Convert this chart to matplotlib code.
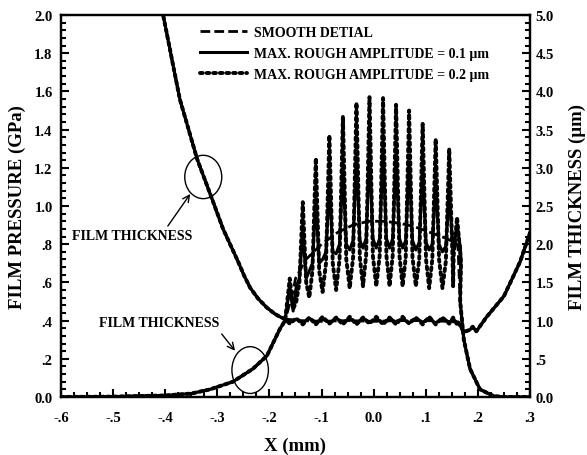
import numpy as np
import matplotlib
matplotlib.use('Agg')
import matplotlib.pyplot as plt
from matplotlib.patches import Ellipse
from matplotlib.ticker import MultipleLocator

plt.rcParams['font.family'] = ['Liberation Serif', 'DejaVu Serif']
plt.rcParams['font.weight'] = 'bold'

# ---- pressure (GPa) ----
# inlet build-up, common to all three runs
x_inlet = [-0.60, -0.50, -0.40, -0.35, -0.314, -0.27, -0.232, -0.205, -0.18, -0.17]
p_inlet = [0.0, 0.002, 0.008, 0.018, 0.04, 0.08, 0.147, 0.215, 0.356, 0.40]

# smooth contact dome
x_dome = [-0.165, -0.155, -0.15, -0.13, -0.10, -0.07, -0.04, -0.01, 0.02, 0.05,
          0.08, 0.11, 0.14, 0.16, 0.162]
p_dome = [0.45, 0.55, 0.62, 0.72, 0.80, 0.86, 0.90, 0.92, 0.92, 0.91,
          0.89, 0.86, 0.83, 0.80, 0.78]

# outlet drop, common to all three runs
x_outlet = [0.166, 0.173, 0.185, 0.204, 0.23, 0.25, 0.30]
p_outlet = [0.50, 0.30, 0.147, 0.04, 0.005, 0.0, 0.0]

# asperity spikes of the rough runs
x_peak = [-0.161, -0.136, -0.111, -0.085, -0.059, -0.033, -0.008, 0.018, 0.043,
          0.068, 0.094, 0.119, 0.145, 0.160]
p_peak_01 = [0.57, 0.87, 1.03, 1.11, 1.20, 1.25, 1.28, 1.28, 1.25, 1.23, 1.18,
             1.12, 1.08, 0.90]
p_foot_01 = [0.45, 0.62, 0.70, 0.76, 0.80, 0.82, 0.83, 0.83, 0.83, 0.82, 0.81,
             0.80, 0.79, 0.78]
p_valley_01 = [0.42, 0.58, 0.66, 0.72, 0.75, 0.77, 0.78, 0.78, 0.78, 0.78, 0.77,
               0.77, 0.76, 0.76, 0.72]
p_peak_02 = [0.62, 1.02, 1.25, 1.37, 1.47, 1.54, 1.57, 1.565, 1.53, 1.50, 1.43,
             1.35, 1.30, 0.94]
p_foot_02 = [0.46, 0.60, 0.66, 0.70, 0.72, 0.73, 0.74, 0.74, 0.74, 0.73, 0.72,
             0.72, 0.71, 0.74]
p_valley_02 = [0.42, 0.50, 0.52, 0.55, 0.56, 0.57, 0.58, 0.58, 0.58, 0.58, 0.58,
               0.57, 0.57, 0.58, 0.70]

# ---- film thickness (um) ----
x_film = [-0.41, -0.404, -0.372, -0.339, -0.31, -0.289, -0.26, -0.248, -0.237,
          -0.222, -0.205, -0.19, -0.18, -0.17, -0.14, -0.10, -0.05, 0.0, 0.05,
          0.10, 0.14, 0.162, 0.173, 0.185, 0.19, 0.197, 0.217, 0.25, 0.281, 0.30]
h_film = [5.15, 5.0, 3.9, 3.12, 2.59, 2.2, 1.77, 1.58, 1.43,
          1.29, 1.17, 1.09, 1.05, 1.02, 1.0, 0.99, 1.0, 0.99, 1.0,
          1.0, 0.99, 0.98, 0.85, 0.88, 0.92, 0.86, 1.05, 1.32, 1.77, 2.15]
# rough film: dips under each asperity, crests between them
h_dip_01 = [0.98, 0.97, 0.98, 0.97, 0.98, 0.97, 0.98, 0.97, 0.98, 0.97, 0.98,
            0.97, 0.98, 0.97]
h_crest_01 = [1.02, 1.03, 1.02, 1.03, 1.02, 1.03, 1.02, 1.03, 1.02, 1.03, 1.02,
              1.03, 1.02]
h_dip_02 = [0.96, 0.95, 0.95, 0.96, 0.95, 0.95, 0.96, 0.95, 0.95, 0.96, 0.95,
            0.95, 0.96, 0.95]
h_crest_02 = [1.03, 1.04, 1.05, 1.04, 1.05, 1.04, 1.05, 1.04, 1.05, 1.04, 1.05,
              1.04, 1.04]

x_ticks = [-0.6, -0.5, -0.4, -0.3, -0.2, -0.1, 0.0, 0.1, 0.2, 0.3]
x_labels = ['-.6', '-.5', '-.4', '-.3', '-.2', '-.1', '0.0', '.1', '.2', '.3']
p_ticks = [0.0, 0.2, 0.4, 0.6, 0.8, 1.0, 1.2, 1.4, 1.6, 1.8, 2.0]
p_labels = ['0.0', '.2', '.4', '.6', '.8', '1.0', '1.2', '1.4', '1.6', '1.8', '2.0']
h_ticks = [0.0, 0.5, 1.0, 1.5, 2.0, 2.5, 3.0, 3.5, 4.0, 4.5, 5.0]
h_labels = ['0.0', '.5', '1.0', '1.5', '2.0', '2.5', '3.0', '3.5', '4.0', '4.5', '5.0']

labels = ['SMOOTH DETIAL',
          'MAX. ROUGH AMPLITUDE = 0.1 \u00b5m',
          'MAX. ROUGH AMPLITUDE = 0.2 \u00b5m']

SPIKE_HALF = 0.0065


def rough_pressure(peaks, feet, valleys):
    xs, ps = list(x_inlet), list(p_inlet)
    mids = [(a + b) / 2 for a, b in zip(x_peak[:-1], x_peak[1:])]
    for i, xp in enumerate(x_peak):
        xs += [xp - SPIKE_HALF, xp, xp + SPIKE_HALF]
        ps += [feet[i], peaks[i], feet[i]]
        if i < len(mids):
            xs.append(mids[i])
            ps.append(valleys[i + 1])
    xs.append(x_peak[-1] + SPIKE_HALF + 0.001)
    ps.append(valleys[-1])
    return xs + x_outlet, ps + p_outlet


def rough_film(dips, crests):
    mids = [(a + b) / 2 for a, b in zip(x_peak[:-1], x_peak[1:])]
    xs = [x for x in x_film if x < -0.165]
    hs = [h for x, h in zip(x_film, h_film) if x < -0.165]
    for i, xp in enumerate(x_peak):
        xs.append(xp)
        hs.append(dips[i])
        if i < len(mids):
            xs.append(mids[i])
            hs.append(crests[i])
    tail = [(x, h) for x, h in zip(x_film, h_film) if x > 0.16]
    return xs + [t[0] for t in tail], hs + [t[1] for t in tail]


styles = [dict(ls=(0, (3.5, 1.5)), lw=2.0),
          dict(ls='-', lw=2.2),
          dict(ls=(0, (0.7, 1.0)), lw=2.8, dash_capstyle='round')]

fig = plt.figure(figsize=(5.87, 4.56), dpi=100)
ax = fig.add_axes([0.1039, 0.1272, 0.799, 0.8377])
ax2 = ax.twinx()

# pressure curves
ax.plot(x_inlet + x_dome + x_outlet, p_inlet + p_dome + p_outlet,
        color='k', label=labels[0], **styles[0])
xr, pr = rough_pressure(p_peak_01, p_foot_01, p_valley_01)
ax.plot(xr, pr, color='k', label=labels[1], **styles[1])
xr, pr = rough_pressure(p_peak_02, p_foot_02, p_valley_02)
ax.plot(xr, pr, color='k', label=labels[2], **styles[2])

# film thickness curves
ax2.plot(x_film, h_film, color='k', **styles[0])
xf, hf = rough_film(h_dip_01, h_crest_01)
ax2.plot(xf, hf, color='k', **styles[1])
xf, hf = rough_film(h_dip_02, h_crest_02)
ax2.plot(xf, hf, color='k', **styles[2])

ax.set_xlim(-0.6, 0.3)
ax.set_ylim(0, 2.0)
ax2.set_ylim(0, 5.0)
ax.set_xticks(x_ticks)
ax.set_xticklabels(x_labels)
ax.set_yticks(p_ticks)
ax.set_yticklabels(p_labels)
ax2.set_yticks(h_ticks)
ax2.set_yticklabels(h_labels)
ax.xaxis.set_minor_locator(MultipleLocator(0.025))
ax.yaxis.set_minor_locator(MultipleLocator(0.04))
ax2.yaxis.set_minor_locator(MultipleLocator(0.1))

ax.tick_params(axis='x', which='both', direction='in', top=False, pad=10,
               labelsize=10.5, width=1.5)
ax.tick_params(axis='y', which='both', direction='in', right=False, pad=6,
               labelsize=10.5, width=1.5)
ax2.tick_params(axis='y', which='both', direction='in', pad=4,
                labelsize=10.5, width=1.5)
for a in (ax, ax2):
    a.tick_params(which='major', length=6)
    a.tick_params(which='minor', length=3.5)
    for s in a.spines.values():
        s.set_linewidth(1.6)

ax.set_xlabel('X (mm)', fontsize=13.5, fontweight='bold')
ax.set_ylabel('FILM PRESSURE (GPa)', fontsize=13.5, fontweight='bold')
ax2.set_ylabel('FILM THICKNESS (\u00b5m)', fontsize=13.5, fontweight='bold',
               rotation=90)
ax.xaxis.set_label_coords(0.5, -0.104)
ax.yaxis.set_label_coords(-0.074, 0.5)
ax2.yaxis.set_label_coords(1.083, 0.5)

# annotations pointing at the film thickness curve
ax.add_patch(Ellipse((-0.327, 1.152), 0.071, 0.227, fill=False, lw=1.0,
                     color='k'))
ax.add_patch(Ellipse((-0.237, 0.141), 0.070, 0.245, fill=False, lw=1.0,
                     color='k'))
ax.text(-0.579, 0.843, 'FILM THICKNESS', fontsize=10, fontweight='bold',
        va='center', ha='left')
ax.text(-0.527, 0.39, 'FILM THICKNESS', fontsize=10, fontweight='bold',
        va='center', ha='left')
ax.annotate('', xy=(-0.352, 1.063), xytext=(-0.395, 0.895),
            arrowprops=dict(arrowstyle='->', lw=1.0, color='k',
                            mutation_scale=12, shrinkA=0, shrinkB=0))
ax.annotate('', xy=(-0.266, 0.242), xytext=(-0.2916, 0.330),
            arrowprops=dict(arrowstyle='->', lw=1.0, color='k',
                            mutation_scale=12, shrinkA=0, shrinkB=0))

leg = ax.legend(loc='upper left', bbox_to_anchor=(0.285, 0.985),
                frameon=False, fontsize=10, handlelength=3.4,
                handletextpad=0.5, labelspacing=0.55, borderaxespad=0)

fig.savefig('out.png', dpi=100)
